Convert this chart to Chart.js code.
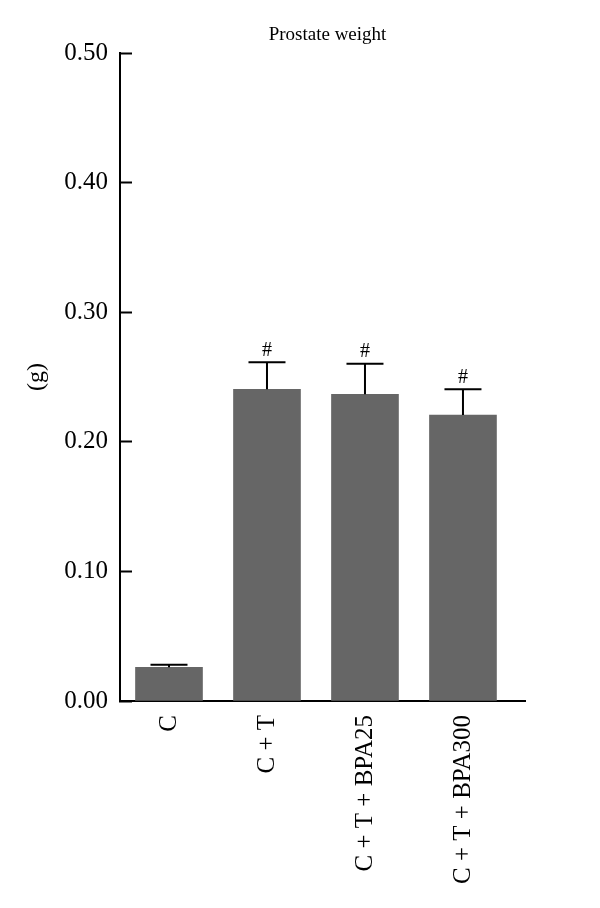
<!DOCTYPE html>
<html>
<head>
<meta charset="utf-8">
<script src="https://cdn.jsdelivr.net/npm/chart.js@4.4.1/dist/chart.umd.min.js"></script>
<style>
  body { margin: 0; background: #fff; }
  #wrap { width: 600px; height: 908px; }
</style>
</head>
<body>
<div id="wrap"><canvas id="weightChart"></canvas></div>
<script>
// values (g)
const groups = ['C', 'C + T', 'C + T + BPA25', 'C + T + BPA300'];
const meanWeight = [0.026, 0.2405, 0.2366, 0.2207];
const semWeight = [0.002, 0.0208, 0.0237, 0.0198];
const sigMarks = ['', '#', '#', '#'];
const yTicks = [0, 0.1, 0.2, 0.3, 0.4, 0.5];

const serif = '"Liberation Serif", "DejaVu Serif", serif';

// error bars + significance marks
const errorBars = {
  id: 'errorBars',
  afterDatasetsDraw(chart) {
    const ctx = chart.ctx;
    const yScale = chart.scales.y;
    const meta = chart.getDatasetMeta(0);
    ctx.save();
    ctx.strokeStyle = '#000';
    ctx.lineWidth = 2;
    meta.data.forEach((bar, i) => {
      const top = yScale.getPixelForValue(meanWeight[i] + semWeight[i]);
      ctx.beginPath();
      ctx.moveTo(bar.x, bar.y);
      ctx.lineTo(bar.x, top);
      ctx.moveTo(bar.x - 18.5, top);
      ctx.lineTo(bar.x + 18.5, top);
      ctx.stroke();
      if (sigMarks[i]) {
        ctx.fillStyle = '#000';
        ctx.font = '20px ' + serif;
        ctx.textAlign = 'center';
        ctx.textBaseline = 'bottom';
        ctx.fillText(sigMarks[i], bar.x, top - 2);
      }
    });
    ctx.restore();
  }
};

// chart title above the plot
const plotTitle = {
  id: 'plotTitle',
  afterDraw(chart) {
    const ctx = chart.ctx;
    const area = chart.chartArea;
    ctx.save();
    ctx.fillStyle = '#000';
    ctx.font = '19px ' + serif;
    ctx.textAlign = 'center';
    ctx.textBaseline = 'middle';
    ctx.fillText('Prostate weight', (area.left + area.right) / 2 + 5, 35);
    ctx.restore();
  }
};

const ctx = document.getElementById('weightChart').getContext('2d');
new Chart(ctx, {
  type: 'bar',
  data: {
    datasets: [{
      data: meanWeight.map((v, i) => ({ x: i, y: v })),
      backgroundColor: '#666666',
      borderWidth: 0,
      barThickness: 67
    }]
  },
  options: {
    responsive: true,
    maintainAspectRatio: false,
    animation: false,
    layout: { padding: { top: 53, right: 75, left: 0, bottom: 0 } },
    plugins: {
      legend: { display: false },
      tooltip: { enabled: false }
    },
    scales: {
      x: {
        type: 'linear',
        offset: false,
        min: -0.5,
        max: 3.633,
        afterBuildTicks: scale => { scale.ticks = groups.map((g, i) => ({ value: i })); },
        afterFit: scale => { scale.height = 207; },
        grid: { display: false, offset: false },
        border: { display: true, color: '#000', width: 2 },
        ticks: {
          minRotation: 90,
          maxRotation: 90,
          padding: 6,
          color: '#000',
          font: { family: serif, size: 25 },
          callback: v => groups[v]
        }
      },
      y: {
        min: 0,
        max: 0.5,
        afterBuildTicks: scale => { scale.ticks = yTicks.map(v => ({ value: v })); },
        afterFit: scale => { scale.width = 120; },
        grid: { drawOnChartArea: false, tickLength: -12, tickWidth: 2, tickColor: '#000' },
        border: { display: true, color: '#000', width: 2 },
        ticks: {
          padding: 24,
          color: '#000',
          font: { family: serif, size: 25 },
          callback: v => v.toFixed(2)
        },
        title: {
          display: true,
          text: '(g)',
          color: '#000',
          font: { family: serif, size: 24 },
          padding: { top: 22, bottom: 0 }
        }
      }
    }
  },
  plugins: [errorBars, plotTitle]
});
</script>
</body>
</html>
